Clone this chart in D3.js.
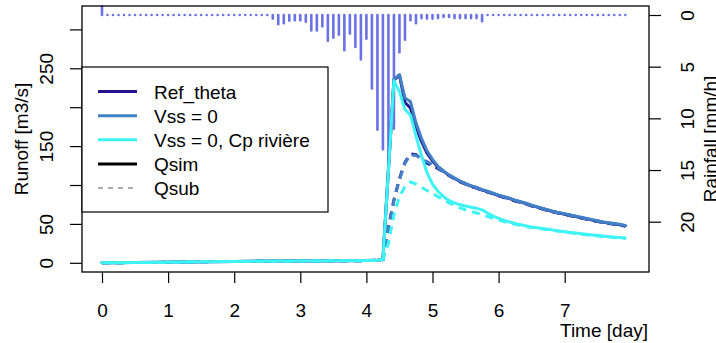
<!DOCTYPE html>
<html><head><meta charset="utf-8">
<script src="https://cdn.jsdelivr.net/npm/d3@7"></script>
<style>
html,body{margin:0;padding:0;background:#fff;}
svg{display:block;}
text{font-family:"Liberation Sans",Arial,Helvetica,sans-serif;font-size:19px;fill:#000;}
</style></head>
<body>
<svg id="chart" width="716" height="343"></svg>
<script>
// ---------------- DATA ----------------
// rainfall, 2-hourly steps (day = index/12)
const rainStepsPerDay = 12;
const rain = [
 -0.85,0,0,0,0,0,0,0,0,0, 0,0,0,0,0,0,0,0,0,0,
 0,0,0,0,0,0,0,0,0,0, 0,0.35,0.9,0.8,0.55,0.5,0.5,0.65,1.5,1.5,
 1.1,2.5,2.2,1.9,3.4,1.8,3.1,4.3,2.3,7.1, 11.1,13.0,14.2,11.0,3.6,2.4,0.5,0.8,0.3,0.35,
 0.35,0.3,0.2,0.2,0.3,0.3,0.3,0.3,0.3,0.6, 0,0,0,0,0,0,0,0,0,0,
 0,0,0,0,0,0,0,0,0,0, 0,0,0,0,0,0
];
// runoff time axis (days)
const qTime = [0,1,1.5,2,3,4,
 50/12,51/12,52/12,53/12,54/12,55/12,56/12,57/12,58/12,59/12,
 60/12,61/12,62/12,63/12,64/12,65/12,66/12,67/12,68/12,69/12,
 70/12,71/12,72/12,73/12,74/12,75/12,76/12,77/12,78/12,79/12,
 80/12,81/12,82/12,83/12,84/12,85/12,86/12,87/12,88/12,89/12,
 90/12,91/12,92/12,93/12,94/12,95/12];
const refQsim = [0,0.6,1.4,1.7,2.2,2.8,
 3.2,4.5,120,235,241,206,199,175,156,141,
 131,123,117.5,112.5,108.5,104.5,101.5,98.5,96.5,93.5,
 91.5,89,86.5,84.5,82.5,80,78,76,73.5,71.5,
 69.5,67.5,65.5,64,62.5,61,59.5,58,56.5,55,
 53.5,52,51,50,49,47.5];
const refQsub = [0,0.6,1.4,1.7,2.2,2.8,
 3.2,4,46,81,108,129,140,139,133,128,
 125,121,117,112,108,104,101,98,96,93,
 91,88.5,86,84,82,79.5,77.5,75.5,73,71,
 69,67,65,63.5,62,60.5,59,57.5,56,54.5,
 53,51.5,50.5,49.5,48.5,47];
const vssQsim = [0,0.6,1.4,1.7,2.2,2.8,
 3.2,4.5,120,236,242,212,207,180,160,144,
 133,124,118,113,109,105,102,99,97,94,
 92,89.5,87,85,83,80.5,78.5,76.5,74,72,
 70,68,66,64.5,63,61.5,60,58.5,57,55.5,
 54,52.5,51.5,50.5,49.5,48];
const vssQsub = [0,0.6,1.4,1.7,2.2,2.8,
 3.2,4,45,80,107,128,139,138,134,130,
 126,122,117,112.5,108.5,104.5,101.5,98.5,96.5,93.5,
 91.5,89,86.5,84.5,82.5,80,78,76,73.5,71.5,
 69.5,67.5,65.5,64,62.5,61,59.5,58,56.5,55,
 53.5,52,51,50,49,47.5];
const cpQsim = [0,0.6,1.4,1.7,2.2,2.8,
 3.2,4.5,118,234,220,197,190,163,138,116,
 101,92,85,80,77,74.5,73,71.5,70,68,
 64,60,57,54.5,52.5,50.5,49,47.5,46,45,
 44,43,42,41,40,39,38.2,37.4,36.6,35.8,
 35,34.3,33.6,33,32.4,31.8];
const cpQsub = [0,0.6,1.4,1.7,2.2,2.8,
 3.2,3.5,25,62,85,98,104,101,97,93,
 89,85,81,77,74,70.5,68,66,64,62,
 59.5,57,55,53,51,49.5,48,46.5,45.3,44.3,
 43.3,42.5,41.5,40.5,39.5,38.5,37.7,36.9,36.1,35.3,
 34.5,33.8,33.1,32.5,31.9,31.3];
const xTicks = [0,1,2,3,4,5,6,7];
const yTicks = [0,50,100,150,200,250,300];
const yTickLabels = ["0","50","","150","","250",""];
const rTicks = [0,5,10,15,20];
const legendLabels = ["Ref_theta","Vss = 0","Vss = 0, Cp rivière","Qsim","Qsub"];

// ---------------- STYLE / LAYOUT ----------------
const colors = {"Ref_theta":"#26128e","Vss = 0":"#4280c8","Vss = 0, Cp rivière":"#3ef3f3"};
const rainColor = "#6a72e6";
const box = {l:82, r:649, t:6, b:272};

const svg = d3.select("#chart");
const x = d3.scaleLinear().domain([0,7]).range([102,564.7]);
const y = d3.scaleLinear().domain([0,300]).range([262.8,29.4]);
const r = d3.scaleLinear().domain([0,20]).range([15,221.7]);

// rain bars
const gRain = svg.append("g");
rain.forEach((v,i)=>{
  const t = i/rainStepsPerDay;
  const px = x(t);
  const y0 = r(0), y1 = (v===0) ? r(0)+0.05 : r(v);
  gRain.append("path")
    .attr("d",`M${px},${y0}L${px},${y1}`)
    .attr("stroke",rainColor).attr("stroke-width",2.6)
    .attr("stroke-linecap","round").attr("fill","none");
});

// runoff lines
const line = d3.line().x((d,i)=>x(qTime[i])).y(d=>y(d));
const data = [
  {name:"Ref_theta", qsim:refQsim, qsub:refQsub},
  {name:"Vss = 0", qsim:vssQsim, qsub:vssQsub},
  {name:"Vss = 0, Cp rivière", qsim:cpQsim, qsub:cpQsub}
];
const gLines = svg.append("g");
data.forEach(s=>{
  gLines.append("path").attr("d",line(s.qsim)).attr("fill","none")
    .attr("stroke",colors[s.name]).attr("stroke-width",3).attr("stroke-linejoin","round").attr("stroke-linecap","round");
  gLines.append("path").attr("d",line(s.qsub)).attr("fill","none")
    .attr("stroke",colors[s.name]).attr("stroke-width",3).attr("stroke-dasharray","8,6");
});

// box
svg.append("rect").attr("x",box.l).attr("y",box.t).attr("width",box.r-box.l).attr("height",box.b-box.t)
  .attr("fill","none").attr("stroke","#000").attr("stroke-width",1.3);

// left axis
const gy = svg.append("g").attr("transform",`translate(${box.l},0)`)
  .call(d3.axisLeft(y).tickValues(yTicks).tickSize(12).tickFormat((d,i)=>yTickLabels[i]));
gy.select(".domain").remove();
gy.selectAll(".tick line").attr("stroke","#000").attr("stroke-width",1.2);
gy.selectAll(".tick text").attr("transform","rotate(-90)").attr("x",0).attr("y",-29).attr("dy",0)
  .attr("text-anchor","middle").attr("font-size",null).attr("font-family",null);

// right axis
const gr = svg.append("g").attr("transform",`translate(${box.r},0)`)
  .call(d3.axisRight(r).tickValues(rTicks).tickSize(12).tickFormat(d3.format("d")));
gr.select(".domain").remove();
gr.selectAll(".tick line").attr("stroke","#000").attr("stroke-width",1.2);
gr.selectAll(".tick text").attr("transform","rotate(-90)").attr("x",0).attr("y",44.5).attr("dy",0)
  .attr("text-anchor","middle").attr("font-size",null).attr("font-family",null);

// bottom axis
const gx = svg.append("g").attr("transform",`translate(0,${box.b})`)
  .call(d3.axisBottom(x).tickValues(xTicks).tickSize(11).tickFormat(d3.format("d")));
gx.select(".domain").remove();
gx.selectAll(".tick line").attr("stroke","#000").attr("stroke-width",1.2);
gx.selectAll(".tick text").attr("y",45).attr("dy",0).attr("font-size",null).attr("font-family",null);

// axis titles
svg.append("text").attr("transform","translate(28,139) rotate(-90)").attr("text-anchor","middle").text("Runoff [m3/s]");
svg.append("text").attr("transform","translate(716.6,139) rotate(-90)").attr("text-anchor","middle").text("Rainfall [mm/h]");
svg.append("text").attr("x",648).attr("y",336.5).attr("text-anchor","end").text("Time [day]");

// legend
const lg = svg.append("g");
lg.append("rect").attr("x",82).attr("y",67).attr("width",246).attr("height",145)
  .attr("fill","#fff").attr("stroke","#000").attr("stroke-width",1.2);
const legStyles = [
  {c:colors["Ref_theta"], w:3, dash:null},
  {c:colors["Vss = 0"], w:3, dash:null},
  {c:colors["Vss = 0, Cp rivière"], w:3, dash:null},
  {c:"#000", w:3, dash:null},
  {c:"#555", w:1.2, dash:"5,5"}
];
legendLabels.forEach((lab,i)=>{
  const ly = 91.6 + i*24.1;
  const l = lg.append("line").attr("x1",98).attr("x2",137).attr("y1",ly).attr("y2",ly)
    .attr("stroke",legStyles[i].c).attr("stroke-width",legStyles[i].w);
  if(legStyles[i].dash) l.attr("stroke-dasharray",legStyles[i].dash);
  lg.append("text").attr("x",154).attr("y",ly+6.9).text(lab);
});
</script>
</body></html>
